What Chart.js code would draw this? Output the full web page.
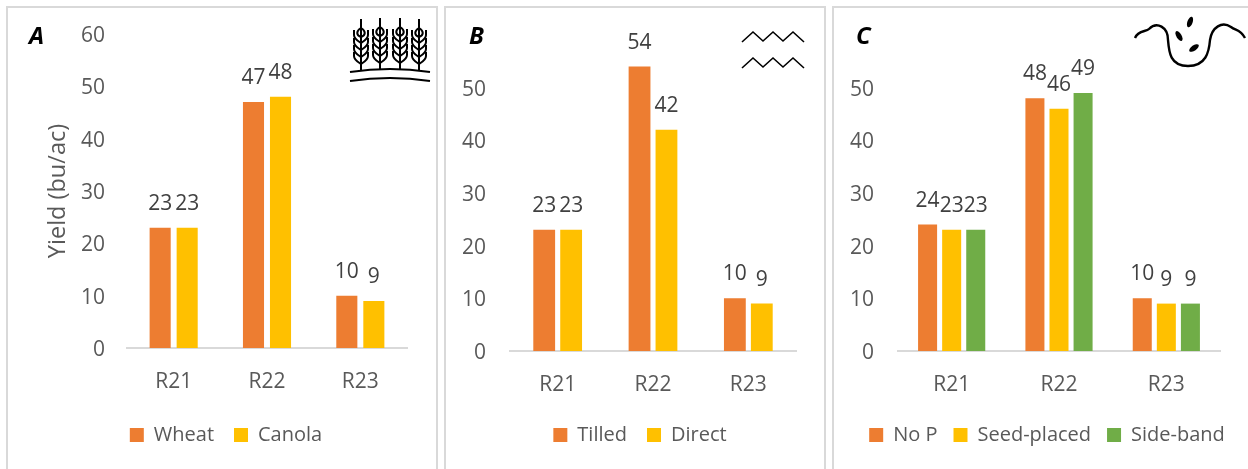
<!DOCTYPE html>
<html>
<head>
<meta charset="utf-8">
<title>Yield by run</title>
<script src="https://cdn.jsdelivr.net/npm/chart.js@4/dist/chart.umd.min.js"></script>
<style>
    html, body { margin: 0; padding: 0; background: #fff; overflow: hidden; }
    body { width: 1248px; height: 469px; position: relative; font-family: "Open Sans", sans-serif; }
    .frame { position: absolute; top: 6px; height: 480px; border: 2px solid #d9d9d9; box-sizing: border-box; }
    .frame canvas { position: absolute; left: 0; top: 0; }
    .letter { position: absolute; top: 10px; font: italic 700 24px "Open Sans", sans-serif; color: #000; }
    #icons { position: absolute; left: 0; top: 0; pointer-events: none; }
</style>
</head>
<body>
<div class="frame" style="left:6px;width:432px"><canvas id="chartA"></canvas><div class="letter" style="left:21px">A</div></div>
<div class="frame" style="left:444px;width:382px"><canvas id="chartB"></canvas><div class="letter" style="left:23px">B</div></div>
<div class="frame" style="left:832px;width:430px"><canvas id="chartC"></canvas><div class="letter" style="left:22px">C</div></div>

<svg id="icons" width="1248" height="469" fill="none" stroke="#000" stroke-width="2">
    <defs>
        <g id="stalk">
            <path d="M0 -1 V51"/>
            <path d="M0 8 C-5 11 -5 15 0 17 C5 15 5 11 0 8"/>
            <path d="M-7 10 V15 C-7 19 -3 21 0 23 C3 21 7 19 7 15 V10"/>
            <path d="M-7 18 V22 C-7 26 -3 28 0 30 C3 28 7 26 7 22 V18"/>
            <path d="M-7 25 V29 C-7 33 -3 35 0 37 C3 35 7 33 7 29 V25"/>
            <path d="M-7 32 V36 C-7 40 -3 42 0 44 C3 42 7 40 7 36 V32"/>
        </g>
    </defs>
    <use href="#stalk" x="361" y="20"/>
    <use href="#stalk" x="380" y="19"/>
    <use href="#stalk" x="400" y="19"/>
    <use href="#stalk" x="419" y="20"/>
    <path d="M350 72 Q390 66 430 72"/>
    <path d="M350 81 Q390 75 430 81"/>
    <path stroke-width="1.6" d="M742 42 L753 32 L763 41 L773 32 L783 41 L793 32 L804 42"/>
    <path stroke-width="1.6" d="M742 68 L753 58 L763 67 L773 58 L783 67 L793 58 L804 68"/>
    <path stroke-width="2.4" d="M1135 38 C1138 30 1146 32 1149 29 C1157 21 1168 27 1168 40 C1169 52 1170 66 1188 66 C1206 66 1209 52 1210 40 C1212 27 1222 21 1231 27 C1236 31 1240 29 1245 38"/>
    <g fill="#000" stroke="none">
        <ellipse cx="1190" cy="22" rx="2.6" ry="5.6" transform="rotate(20 1190 22)"/>
        <ellipse cx="1179" cy="36" rx="2.6" ry="5.6" transform="rotate(-30 1179 36)"/>
        <ellipse cx="1194" cy="48" rx="2.6" ry="5.6" transform="rotate(55 1194 48)"/>
    </g>
</svg>

<script>
const categories = ['R21', 'R22', 'R23'];
const wheat = [23, 47, 10];
const canola = [23, 48, 9];
const tilled = [23, 54, 10];
const direct = [23, 42, 9];
const noP = [24, 48, 10];
const seedPlaced = [23, 46, 9];
const sideBand = [23, 49, 9];
const yTicksShown = { A: 60, B: 50, C: 50 };

const ORANGE = '#ed7d31';
const YELLOW = '#ffc000';
const GREEN = '#70ad47';
const FONT = '"Open Sans", sans-serif';

// value labels sit a fixed distance over each bar
const barLabels = {
    id: 'barLabels',
    afterDatasetsDraw(chart) {
        const ctx = chart.ctx;
        ctx.save();
        ctx.font = '21px ' + FONT;
        ctx.fillStyle = '#404040';
        ctx.textAlign = 'center';
        ctx.textBaseline = 'middle';
        chart.data.datasets.forEach((ds, i) => {
            chart.getDatasetMeta(i).data.forEach((bar, j) => {
                ctx.fillText(ds.data[j], bar.x, bar.y - 24);
            });
        });
        ctx.restore();
    }
};

function makeChart(id, cfg) {
    const canvas = document.getElementById(id);
    canvas.width = cfg.width;
    canvas.height = cfg.height;
    canvas.style.width = cfg.width + 'px';
    canvas.style.height = cfg.height + 'px';
    return new Chart(canvas, {
        type: 'bar',
        data: {
            labels: categories,
            datasets: cfg.series.map(s => ({
                label: s.label,
                data: s.data,
                backgroundColor: s.color,
                categoryPercentage: cfg.catPct,
                barPercentage: cfg.barPct
            }))
        },
        options: {
            responsive: false,
            animation: false,
            layout: { padding: { top: cfg.top, right: 0, left: 0, bottom: cfg.bottom } },
            plugins: {
                tooltip: { enabled: false },
                legend: {
                    position: 'bottom',
                    labels: {
                        boxWidth: 14,
                        boxHeight: 14,
                        padding: cfg.legendPad,
                        color: '#595959',
                        font: { family: FONT, size: 20 }
                    }
                }
            },
            scales: {
                x: {
                    grid: { display: false, drawTicks: false },
                    border: { color: '#d9d9d9', width: 2 },
                    ticks: { color: '#595959', padding: 21, font: { family: FONT, size: 21 } },
                    afterFit(scale) { scale.height = cfg.axisHeight; }
                },
                y: {
                    min: 0,
                    max: 60,
                    grid: { display: false, drawTicks: false },
                    border: { display: false },
                    title: {
                        display: !!cfg.yTitle,
                        text: cfg.yTitle,
                        color: '#595959',
                        font: { family: FONT, size: 23.5 },
                        padding: { top: 36, bottom: 0 }
                    },
                    ticks: {
                        stepSize: 10,
                        color: '#595959',
                        padding: cfg.tickPad,
                        labelOffset: 2,
                        font: { family: FONT, size: 21 },
                        callback: v => (v > cfg.maxTick ? '' : v)
                    },
                    afterFit(scale) {
                        scale.width = cfg.axisLeft;
                        // tick padding would otherwise push the plot top down
                        scale.paddingTop = 0;
                        scale.paddingBottom = 0;
                    }
                },
                // empty axis that holds the plot back from the right edge
                spacer: {
                    axis: 'y',
                    position: 'right',
                    grid: { display: false, drawTicks: false },
                    border: { display: false },
                    ticks: { display: false },
                    afterFit(scale) { scale.width = cfg.axisRight; }
                }
            }
        },
        plugins: [barLabels]
    });
}

makeChart('chartA', {
    width: 436, height: 461, top: 26, bottom: 14, legendPad: 20,
    axisLeft: 119, axisRight: 37, axisHeight: 57, tickPad: 22,
    catPct: 0.579, barPct: 0.78, yTitle: 'Yield (bu/ac)', maxTick: yTicksShown.A,
    series: [
        { label: 'Wheat', data: wheat, color: ORANGE },
        { label: 'Canola', data: canola, color: YELLOW }
    ]
});
makeChart('chartB', {
    width: 388, height: 461, top: 27, bottom: 14, legendPad: 20,
    axisLeft: 64, axisRight: 38, axisHeight: 54, tickPad: 24,
    catPct: 0.565, barPct: 0.81, yTitle: '', maxTick: yTicksShown.B,
    series: [
        { label: 'Tilled', data: tilled, color: ORANGE },
        { label: 'Direct', data: direct, color: YELLOW }
    ]
});
makeChart('chartC', {
    width: 426, height: 461, top: 27, bottom: 14, legendPad: 16,
    axisLeft: 64, axisRight: 40, axisHeight: 58, tickPad: 24,
    catPct: 0.673, barPct: 0.79, yTitle: '', maxTick: yTicksShown.C,
    series: [
        { label: 'No P', data: noP, color: ORANGE },
        { label: 'Seed-placed', data: seedPlaced, color: YELLOW },
        { label: 'Side-band', data: sideBand, color: GREEN }
    ]
});
</script>
</body>
</html>
